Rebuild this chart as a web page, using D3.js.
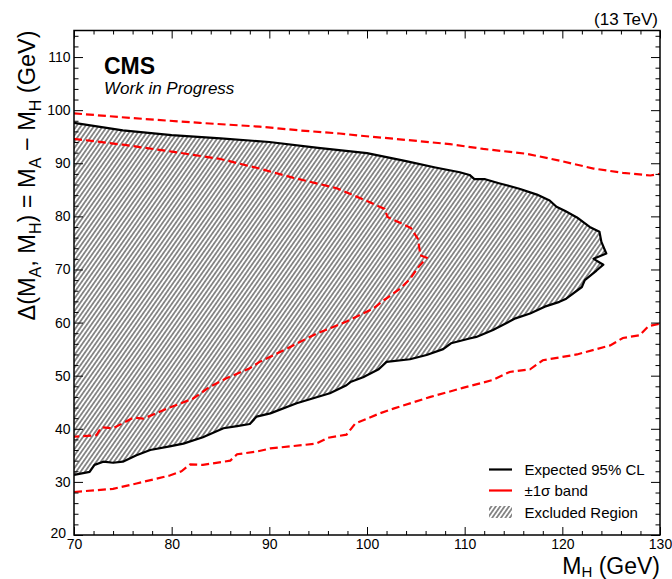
<!DOCTYPE html>
<html>
<head>
<meta charset="utf-8">
<script src="https://cdn.jsdelivr.net/npm/d3@7/dist/d3.min.js"></script>
<style>
  html, body { margin: 0; padding: 0; background: #fff; }
  svg { display: block; font-family: "Liberation Sans", Arial, Helvetica, sans-serif; }
</style>
</head>
<body>
<svg id="chart" width="672" height="579"></svg>
<script>
// ---------------- data ----------------
// Expected 95% CL contour (M_H, Delta)
const expX = [70, 75, 80, 85, 90, 95, 100, 104, 107, 109.5, 110.5, 111, 112.1, 113.6, 115.6, 117.4, 118.7, 119.4, 120.3, 121.5, 122.8, 123.8, 124.0, 124.5, 123.2, 124.2, 123.5, 122.3, 122.0, 120.4, 119.7, 118.2, 116.7, 115.2, 112.9, 111.2, 110.5, 108.6, 107.8, 106.1, 104.4, 102.0, 101.2, 99.6, 98.3, 97.9, 96.2, 92.8, 90.1, 88.7, 88.0, 86.7, 85.3, 83.2, 81.2, 79.8, 77.8, 76.4, 75.0, 74.0, 73.0, 72.1, 71.6, 70];
const expY = [97.6, 96.2, 95.3, 94.7, 94.0, 92.9, 91.9, 90.4, 89.2, 88.3, 87.8, 87.0, 87.0, 86.2, 85.2, 84.1, 83.0, 81.8, 81.0, 79.8, 78.0, 77.1, 75.2, 73.0, 72.0, 70.9, 69.8, 68.0, 66.7, 64.5, 63.9, 63.0, 61.7, 60.8, 58.6, 57.3, 57.0, 56.1, 55.0, 53.9, 53.1, 52.6, 51.2, 49.7, 48.8, 48.2, 46.7, 44.8, 42.9, 42.3, 40.9, 40.5, 40.1, 38.4, 37.2, 36.7, 36.0, 35.0, 33.8, 33.6, 33.8, 33.2, 31.9, 31.3];

// +-1 sigma band: outer upper edge
const outerUpX = [70, 76, 82.9, 89.0, 93.0, 97.2, 99.3, 104, 108.5, 111.9, 116.3, 119.7, 123.2, 126.2, 129.0, 130];
const outerUpY = [99.4, 98.5, 97.6, 96.9, 96.2, 95.6, 95.2, 94.4, 93.6, 92.7, 91.8, 90.5, 89.0, 88.2, 87.7, 88.0];

// +-1 sigma band: outer lower edge
const outerLoX = [70, 74.0, 76.4, 79.8, 81.0, 81.9, 83.2, 86.0, 86.7, 88.7, 90.1, 94.8, 96.0, 97.9, 98.8, 101.3, 102.7, 106.5, 109.8, 112.9, 114.6, 116.7, 118.0, 121.5, 124.9, 126.2, 127.9, 128.8, 130];
const outerLoY = [28.1, 28.7, 29.7, 31.2, 32.0, 33.3, 33.2, 34.0, 35.2, 35.7, 36.3, 37.2, 38.3, 38.9, 41.0, 42.9, 43.8, 46.0, 47.7, 49.2, 50.7, 51.2, 52.9, 54.0, 55.7, 57.1, 57.6, 59.3, 59.8];

// +-1 sigma band: inner contour
const innerX = [70, 75, 80, 85, 89.0, 92.4, 96.9, 99.6, 101.8, 102.1, 104.5, 105.2, 105.4, 105.4, 106.1, 105.2, 104.4, 103.4, 101.8, 100.6, 97.9, 94.8, 91.8, 89.0, 88.0, 85.6, 83.9, 82.2, 79.8, 77.1, 76.1, 74.0, 72.8, 72.3, 70];
const innerY = [94.6, 93.5, 92.2, 90.8, 89.0, 87.3, 85.3, 83.2, 81.4, 79.9, 77.8, 75.8, 73.6, 72.7, 72.2, 70.3, 68.2, 66.4, 64.3, 62.6, 60.2, 57.9, 55.1, 52.6, 51.4, 49.5, 47.9, 45.7, 44.0, 41.9, 42.1, 40.1, 40.3, 38.8, 38.5];

const xTicks = [70, 80, 90, 100, 110, 120, 130];
const yTicks = [20, 30, 40, 50, 60, 70, 80, 90, 100, 110];
const legendLabels = ["Expected 95% CL", "\u00b11\u03c3 band", "Excluded Region"];

// ---------------- layout ----------------
const svg = d3.select("#chart");
const L = 74, R = 660, T = 30.5, B = 535;
const x = d3.scaleLinear().domain([70, 130]).range([L, R]);
const y = d3.scaleLinear().domain([20, 115]).range([B, T]);

const defs = svg.append("defs");
const pat = defs.append("pattern")
  .attr("id", "hatch").attr("patternUnits", "userSpaceOnUse")
  .attr("width", 3.6).attr("height", 10)
  .attr("patternTransform", "rotate(35)");
pat.append("line").attr("x1", 1.8).attr("x2", 1.8).attr("y1", -1).attr("y2", 11)
  .attr("stroke", "#222").attr("stroke-width", 1.0);
defs.append("clipPath").attr("id", "plotclip")
  .append("rect").attr("x", L).attr("y", T).attr("width", R - L).attr("height", B - T);

const zip = (xs, ys) => xs.map((v, i) => [v, ys[i]]);
const line = d3.line().x(d => x(d[0])).y(d => y(d[1]));

const plot = svg.append("g").attr("clip-path", "url(#plotclip)");

// excluded region
plot.append("path").attr("d", line(zip(expX, expY)) + "Z")
  .attr("fill", "url(#hatch)").attr("stroke", "none");

// sigma band lines
[[outerUpX, outerUpY], [outerLoX, outerLoY], [innerX, innerY]].forEach(([xs, ys]) => {
  plot.append("path").attr("d", line(zip(xs, ys)))
    .attr("fill", "none").attr("stroke", "#ff0000").attr("stroke-width", 2.2)
    .attr("stroke-dasharray", "8,4");
});

// expected line
plot.append("path").attr("d", line(zip(expX, expY)))
  .attr("fill", "none").attr("stroke", "#000").attr("stroke-width", 2.2)
  .attr("stroke-linejoin", "round");

// ---------------- axes ----------------
const xMinor = d3.range(70, 130.01, 2).filter(v => v % 10 !== 0);
const yMinor = d3.range(20, 115.01, 2).filter(v => v % 10 !== 0);

function styleAxis(g) {
  g.select(".domain").remove();
  g.selectAll("line").attr("stroke", "#000").attr("stroke-width", 1);
  g.selectAll("text").attr("font-size", 14).attr("fill", "#000")
    .attr("font-family", '"Liberation Sans", Arial, sans-serif');
}

svg.append("g").attr("transform", `translate(0,${B})`)
  .call(d3.axisBottom(x).tickValues(xTicks).tickSize(-8).tickPadding(4.5).tickFormat(d3.format("d")))
  .call(styleAxis);
svg.append("g").attr("transform", `translate(0,${B})`)
  .call(d3.axisBottom(x).tickValues(xMinor).tickSize(-4).tickFormat(""))
  .call(styleAxis);
svg.append("g").attr("transform", `translate(0,${T})`)
  .call(d3.axisTop(x).tickValues(xTicks).tickSize(-8).tickFormat(""))
  .call(styleAxis);
svg.append("g").attr("transform", `translate(0,${T})`)
  .call(d3.axisTop(x).tickValues(xMinor).tickSize(-4).tickFormat(""))
  .call(styleAxis);

const yAxisG = svg.append("g").attr("transform", `translate(${L},0)`)
  .call(d3.axisLeft(y).tickValues(yTicks).tickSize(-9).tickPadding(3.5).tickFormat(d3.format("d")))
  .call(styleAxis);
// keep the lowest y label clear of the first x label
yAxisG.selectAll(".tick").filter(d => d === 20).select("text").attr("dx", -4.5).attr("dy", "0.15em");
svg.append("g").attr("transform", `translate(${L},0)`)
  .call(d3.axisLeft(y).tickValues(yMinor).tickSize(-4.5).tickFormat(""))
  .call(styleAxis);
svg.append("g").attr("transform", `translate(${R},0)`)
  .call(d3.axisRight(y).tickValues(yTicks).tickSize(-9).tickFormat(""))
  .call(styleAxis);
svg.append("g").attr("transform", `translate(${R},0)`)
  .call(d3.axisRight(y).tickValues(yMinor).tickSize(-4.5).tickFormat(""))
  .call(styleAxis);

// frame
svg.append("rect").attr("x", L).attr("y", T).attr("width", R - L).attr("height", B - T)
  .attr("fill", "none").attr("stroke", "#000").attr("stroke-width", 1.5);

// ---------------- titles ----------------
const xt = svg.append("text").attr("x", R).attr("y", 573.5).attr("text-anchor", "end")
  .attr("font-size", 23).attr("fill", "#000");
xt.append("tspan").text("M");
xt.append("tspan").attr("font-size", 15).attr("dy", 3).text("H");
xt.append("tspan").attr("dy", -3).text(" (GeV)");

const yt = svg.append("text").attr("text-anchor", "end")
  .attr("transform", `translate(35,${T}) rotate(-90)`)
  .attr("font-size", 23.5).attr("fill", "#000");
const yparts = [["\u0394(M", 0], ["A", 1], [", M", 0], ["H", 1], [") = M", 0], ["A", 1], [" \u2212 M", 0], ["H", 1], [" (GeV)", 0]];
let cur = 0;
yparts.forEach(([t, sub]) => {
  const ts = yt.append("tspan").text(t);
  if (sub) { ts.attr("font-size", 16).attr("dy", 6); cur = 1; }
  else if (cur) { ts.attr("dy", -6); cur = 0; }
});

svg.append("text").attr("x", 658).attr("y", 24.5).attr("text-anchor", "end")
  .attr("font-size", 17).attr("fill", "#000").text("(13 TeV)");
svg.append("text").attr("x", 104).attr("y", 74).attr("font-size", 23)
  .attr("font-weight", "bold").attr("fill", "#000").text("CMS");
svg.append("text").attr("x", 104).attr("y", 94).attr("font-size", 17)
  .attr("font-style", "italic").attr("fill", "#000").text("Work in Progress");

// ---------------- legend ----------------
const lg = svg.append("g");
const rowsY = [469.5, 490.5, 512];
lg.append("line").attr("x1", 489).attr("x2", 512).attr("y1", rowsY[0]).attr("y2", rowsY[0])
  .attr("stroke", "#000").attr("stroke-width", 2.2);
lg.append("line").attr("x1", 489).attr("x2", 512).attr("y1", rowsY[1]).attr("y2", rowsY[1])
  .attr("stroke", "#ff0000").attr("stroke-width", 2.2);
lg.append("rect").attr("x", 489).attr("y", rowsY[2] - 6).attr("width", 23).attr("height", 12)
  .attr("fill", "url(#hatch)");
legendLabels.forEach((t, i) => {
  lg.append("text").attr("x", 524.5).attr("y", rowsY[i] + 5.5).attr("font-size", 15)
    .attr("fill", "#000").text(t);
});
</script>
</body>
</html>
